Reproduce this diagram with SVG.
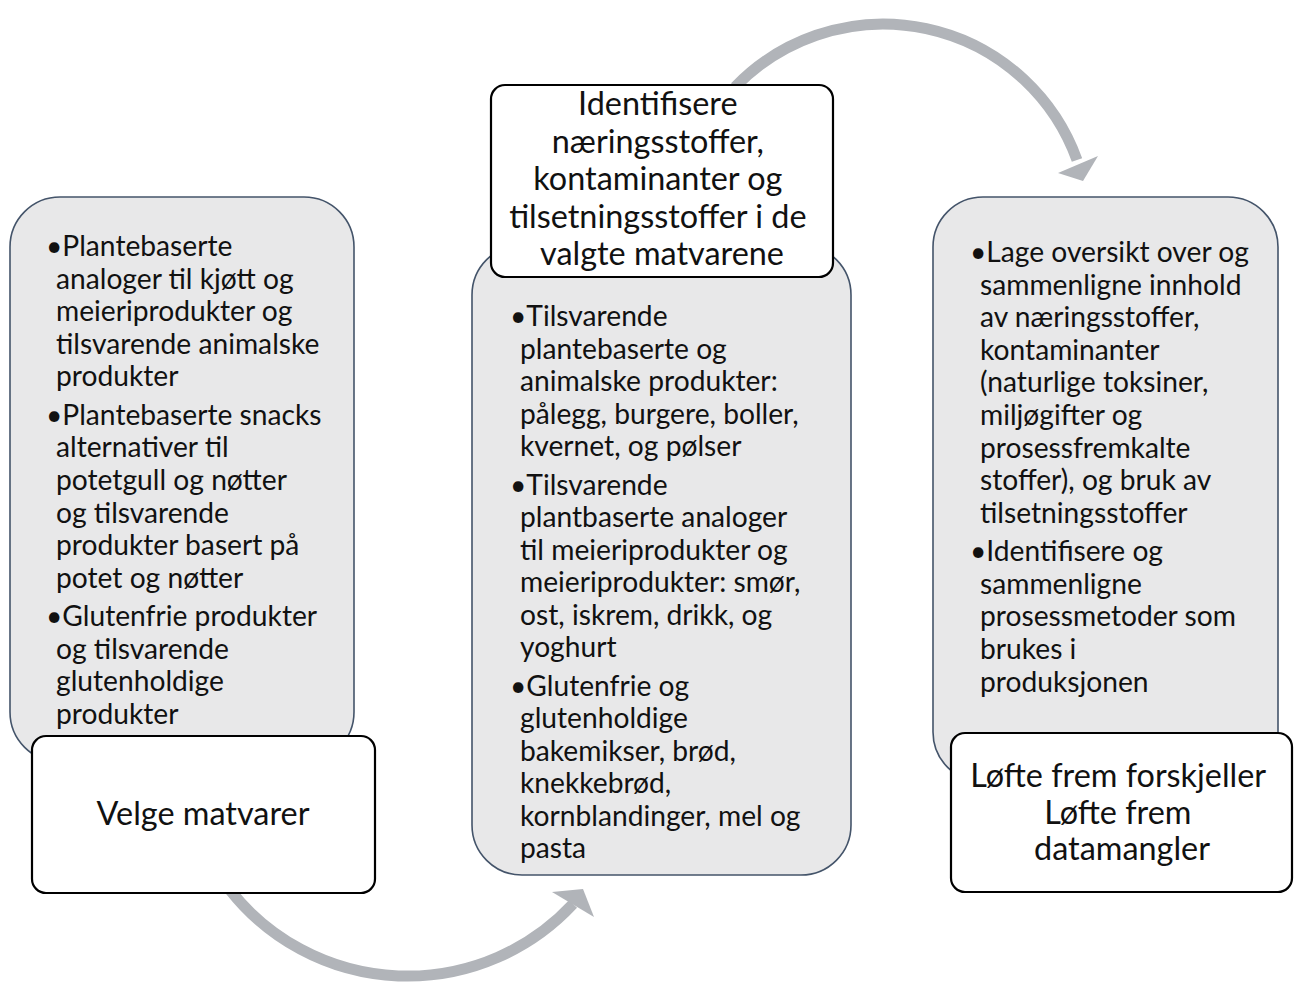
<svg xmlns="http://www.w3.org/2000/svg" width="1301" height="987" viewBox="0 0 1301 987">
  <style>
    .panel { fill: #e8e8e9; stroke: #44546a; stroke-width: 1.6; }
    .label { fill: #ffffff; stroke: #000000; stroke-width: 2.2; }
    .flow { fill: none; stroke: #b1b4b9; stroke-width: 11; }
    .head { fill: #b1b4b9; }
    .body { font-family: Lato, "Open Sans", sans-serif; font-size: 28.2px; fill: #111111; }
    .title { font-family: Lato, "Open Sans", sans-serif; font-size: 32.4px; fill: #111111; text-anchor: middle; }
  </style>
  <rect width="1301" height="987" fill="#ffffff"/>

  <!-- curved arrows between the steps -->
  <g id="connectors">
    <path class="flow" d="M 735 87 A 206 206 0 0 1 1077 160"/>
    <polygon class="head" points="1058,173 1098,156 1083,181"/>
    <path class="flow" d="M 230 890 A 226 226 0 0 0 573 904"/>
    <polygon class="head" points="552,892 583,889 594,917"/>
  </g>

  <!-- step 1 -->
  <g id="step1">
    <rect class="panel" x="10" y="197" width="344" height="565" rx="50" ry="50"/>
    <text class="body">
      <tspan x="46" y="256">•Plantebaserte</tspan>
      <tspan x="56" y="288.6">analoger til kjøtt og</tspan>
      <tspan x="56" y="321.2">meieriprodukter og</tspan>
      <tspan x="56" y="353.8">tilsvarende animalske</tspan>
      <tspan x="56" y="386.4">produkter</tspan>
      <tspan x="46" y="424.8">•Plantebaserte snacks</tspan>
      <tspan x="56" y="457.4">alternativer til</tspan>
      <tspan x="56" y="490">potetgull og nøtter</tspan>
      <tspan x="56" y="522.6">og tilsvarende</tspan>
      <tspan x="56" y="555.2">produkter basert på</tspan>
      <tspan x="56" y="587.8">potet og nøtter</tspan>
      <tspan x="46" y="626.2">•Glutenfrie produkter</tspan>
      <tspan x="56" y="658.8">og tilsvarende</tspan>
      <tspan x="56" y="691.4">glutenholdige</tspan>
      <tspan x="56" y="724">produkter</tspan>
    </text>
    <rect class="label" x="32" y="736" width="343" height="157" rx="14" ry="14"/>
    <text class="title" x="203" y="825">Velge matvarer</text>
  </g>

  <!-- step 2 -->
  <g id="step2">
    <rect class="panel" x="472" y="245" width="379" height="630" rx="50" ry="50"/>
    <text class="body">
      <tspan x="510" y="326">•Tilsvarende</tspan>
      <tspan x="520" y="358.5">plantebaserte og</tspan>
      <tspan x="520" y="391">animalske produkter:</tspan>
      <tspan x="520" y="423.5">pålegg, burgere, boller,</tspan>
      <tspan x="520" y="456">kvernet, og pølser</tspan>
      <tspan x="510" y="494.5">•Tilsvarende</tspan>
      <tspan x="520" y="527">plantbaserte analoger</tspan>
      <tspan x="520" y="559.5">til meieriprodukter og</tspan>
      <tspan x="520" y="592">meieriprodukter: smør,</tspan>
      <tspan x="520" y="624.5">ost, iskrem, drikk, og</tspan>
      <tspan x="520" y="657">yoghurt</tspan>
      <tspan x="510" y="695.5">•Glutenfrie og</tspan>
      <tspan x="520" y="728">glutenholdige</tspan>
      <tspan x="520" y="760.5">bakemikser, brød,</tspan>
      <tspan x="520" y="793">knekkebrød,</tspan>
      <tspan x="520" y="825.5">kornblandinger, mel og</tspan>
      <tspan x="520" y="858">pasta</tspan>
    </text>
    <rect class="label" x="491" y="85" width="342" height="192" rx="14" ry="14"/>
    <text class="title">
      <tspan x="662" y="115">Identifisere</tspan>
      <tspan x="662" y="152.5">næringsstoffer,</tspan>
      <tspan x="662" y="190">kontaminanter og</tspan>
      <tspan x="662" y="227.5">tilsetningsstoffer i de</tspan>
      <tspan x="662" y="265">valgte matvarene</tspan>
    </text>
  </g>

  <!-- step 3 -->
  <g id="step3">
    <rect class="panel" x="933" y="197" width="345" height="585" rx="50" ry="50"/>
    <text class="body">
      <tspan x="970" y="262">•Lage oversikt over og</tspan>
      <tspan x="980" y="294.6">sammenligne innhold</tspan>
      <tspan x="980" y="327.2">av næringsstoffer,</tspan>
      <tspan x="980" y="359.8">kontaminanter</tspan>
      <tspan x="980" y="392.4">(naturlige toksiner,</tspan>
      <tspan x="980" y="425">miljøgifter og</tspan>
      <tspan x="980" y="457.6">prosessfremkalte</tspan>
      <tspan x="980" y="490.2">stoffer), og bruk av</tspan>
      <tspan x="980" y="522.8">tilsetningsstoffer</tspan>
      <tspan x="970" y="561.2">•Identifisere og</tspan>
      <tspan x="980" y="593.8">sammenligne</tspan>
      <tspan x="980" y="626.4">prosessmetoder som</tspan>
      <tspan x="980" y="659">brukes i</tspan>
      <tspan x="980" y="691.6">produksjonen</tspan>
    </text>
    <rect class="label" x="951" y="733" width="341" height="159" rx="14" ry="14"/>
    <text class="title">
      <tspan x="1122" y="787">Løfte frem forskjeller</tspan>
      <tspan x="1122" y="823.5">Løfte frem</tspan>
      <tspan x="1122" y="860">datamangler</tspan>
    </text>
  </g>
</svg>
